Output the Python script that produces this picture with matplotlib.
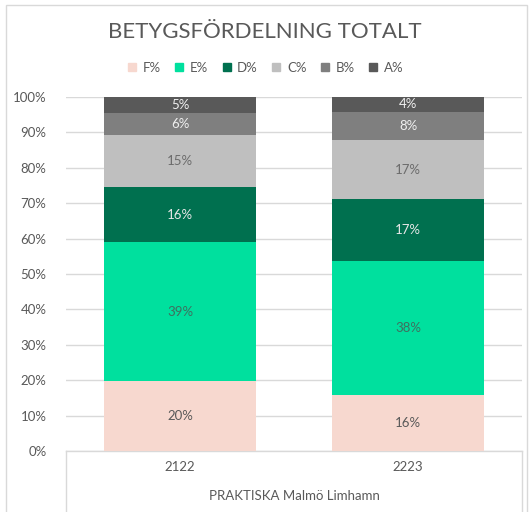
import matplotlib
matplotlib.use("Agg")
import matplotlib.pyplot as plt
from matplotlib.patches import Rectangle
from matplotlib.lines import Line2D
import numpy as np

plt.rcParams['font.family'] = ['Lato', 'DejaVu Sans']

years = ['2122', '2223']
group_label = 'PRAKTISKA Malmö Limhamn'
grades = ['F%', 'E%', 'D%', 'C%', 'B%', 'A%']
# percent per grade, bottom to top
F = [19.7, 15.8]
E = [39.3, 37.9]
D = [15.6, 17.4]
C = [14.7, 16.8]
B = [6.1, 7.9]
A = [4.6, 4.2]
series = [F, E, D, C, B, A]

colors = ['#F7D8CF', '#00E09E', '#00704F', '#BFBFBF', '#7F7F7F', '#595959']
label_colors = ['#595959', '#3F6F5F', '#E8E8E8', '#6B6B6B', '#F0F0F0', '#F0F0F0']
txt = '#595959'

fig = plt.figure(figsize=(5.29, 5.12), dpi=100)
ax = fig.add_axes([66/529, 1 - 451/512, (522 - 66)/529, (451 - 97)/512])

x = np.arange(len(years))
bottom = np.zeros(len(years))
for vals, col, lc, name in zip(series, colors, label_colors, grades):
    vals = np.array(vals)
    ax.bar(x, vals, 0.667, bottom=bottom, color=col, label=name, zorder=3)
    for xi, b, v in zip(x, bottom, vals):
        ax.text(xi, b + v / 2, '%d%%' % round(v), ha='center', va='center',
                fontsize=9.5, color=lc, zorder=4)
    bottom += vals

ax.set_xlim(-0.5, 1.5)
ax.set_ylim(0, 100)
ax.set_yticks(np.arange(0, 101, 10))
ax.set_yticklabels(['%d%%' % v for v in range(0, 101, 10)])
ax.tick_params(axis='y', length=0, labelsize=9.5, labelcolor=txt, pad=14)
ax.set_xticks([])
ax.grid(axis='y', color='#D9D9D9', linewidth=1, zorder=0)
for s in ax.spines.values():
    s.set_visible(False)

# category labels and group box below the axis
for xi, yr in zip(x, years):
    ax.text(xi, -4.5, yr, ha='center', va='center', fontsize=9.5, color=txt,
            clip_on=False)
ax.text(0.5, -12.8, group_label, ha='center', va='center', fontsize=9.5, color=txt,
        clip_on=False)
box_kw = dict(color='#D9D9D9', linewidth=1, clip_on=False)
ax.plot([-0.5, 1.5], [0, 0], **box_kw)
ax.plot([-0.5, -0.5], [0, -20], **box_kw)
ax.plot([1.5, 1.5], [0, -20], **box_kw)

fig.text(0.5, 1 - 32/512, 'BETYGSFÖRDELNING TOTALT', ha='center', va='center',
         fontsize=16, color=txt)

handles = [Line2D([], [], marker='s', linestyle='', markersize=6, color=c) for c in colors]
fig.legend(handles, grades, loc='center', bbox_to_anchor=(0.5, 1 - 68/512), ncol=6,
           frameon=False, fontsize=9.5, labelcolor=txt, handletextpad=0.3,
           columnspacing=0.9, handlelength=1.0)

fig.patches.append(Rectangle((6/529, -0.01), (527 - 6)/529, 1 - 5/512 + 0.01,
                             transform=fig.transFigure, fill=False,
                             edgecolor='#D9D9D9', linewidth=1))

fig.savefig('out.png', dpi=100)
